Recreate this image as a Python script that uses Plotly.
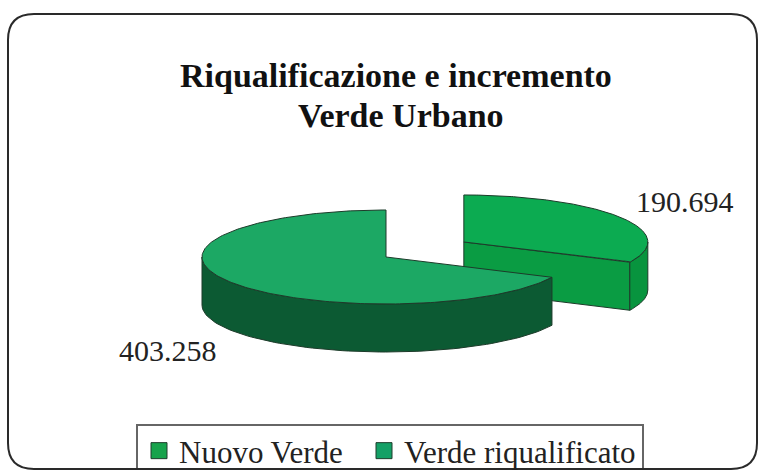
import numpy as np
import plotly.graph_objects as go

# ---------------- data ----------------
categories = ["Nuovo Verde", "Verde riqualificato"]
values = [190694, 403258]
pulls = [0.5, 0.0]
title_lines = ["Riqualificazione e incremento", "Verde Urbano"]

# ---------------- style ----------------
top_colors = ["#0cab51", "#1ca864"]
wall_colors = ["#08943e", "#0c5a33"]
face_colors = ["#0a9c43", "#0d6a3a"]
legend_colors = ["#17a34c", "#14a066"]
edge_color = "#1d3b2a"

W, H_FIG = 765, 470
CX, CY = 386, 257      # pie centre (pixel-like axis units)
RX, RY = 184, 47       # ellipse radii
DEPTH = 48             # thickness of the 3D pie


def rim(cx, cy, th, dz=0.0):
    return cx + RX * np.cos(th), cy - RY * np.sin(th) + dz


def arc(cx, cy, a, b, dz=0.0, n=80):
    th = np.linspace(a, b, n)
    x, y = rim(cx, cy, th, dz)
    return list(x), list(y)


total = float(sum(values))
fracs = [v / total for v in values]
cum = np.concatenate([[0.0], np.cumsum(fracs)])

slices = []
for i, cat in enumerate(categories):
    a0 = np.pi / 2 - 2 * np.pi * cum[i]        # start (clockwise from 12 o'clock)
    a1 = np.pi / 2 - 2 * np.pi * cum[i + 1]    # end
    lo, hi = a1, a0                            # CCW range
    mid = (lo + hi) / 2
    cx = CX + pulls[i] * RX * np.cos(mid)
    cy = CY - pulls[i] * RY * np.sin(mid) * 1.2
    slices.append(dict(i=i, lo=lo, hi=hi, mid=mid, cx=cx, cy=cy))

# paint back-to-front
order = sorted(slices, key=lambda s: -np.sin(s["mid"]))

fig = go.Figure()


def add_poly(xs, ys, color):
    fig.add_trace(go.Scatter(
        x=xs + [xs[0]], y=ys + [ys[0]], mode="lines", fill="toself",
        fillcolor=color, line=dict(color=edge_color, width=1),
        hoverinfo="skip", showlegend=False))


for s in order:
    i, lo, hi, cx, cy = s["i"], s["lo"], s["hi"], s["cx"], s["cy"]
    # radial cut faces
    if np.cos(lo) > 1e-6:
        x1, y1 = rim(cx, cy, lo)
        add_poly([cx, x1, x1, cx], [cy, y1, y1 + DEPTH, cy + DEPTH], face_colors[i])
    if np.cos(hi) < -1e-6:
        x1, y1 = rim(cx, cy, hi)
        add_poly([cx, x1, x1, cx], [cy, y1, y1 + DEPTH, cy + DEPTH], face_colors[i])
    # outer front wall
    for k in range(-2, 3):
        f0, f1 = -np.pi + 2 * np.pi * k, 2 * np.pi * k
        a, b = max(lo, f0), min(hi, f1)
        if b - a > 1e-6:
            tx, ty = arc(cx, cy, a, b)
            bx, by = arc(cx, cy, b, a, DEPTH)
            add_poly(tx + bx, ty + by, wall_colors[i])
    # top surface
    tx, ty = arc(cx, cy, lo, hi, n=200)
    add_poly([cx] + tx, [cy] + ty, top_colors[i])

# legend entries (one legend per entry to place them exactly)
legend_ids = ["legend", "legend2"]
legend_x = [139, 364]
for i, cat in enumerate(categories):
    fig.add_trace(go.Scatter(
        x=[None], y=[None], mode="markers", name=cat, legend=legend_ids[i],
        marker=dict(symbol="square", size=22, color=legend_colors[i],
                    line=dict(color="#1e3d2c", width=1))))

legend_style = dict(orientation="h", y=1 - 424 / H_FIG, xanchor="left", yanchor="top",
                    font=dict(family="Liberation Serif", size=31, color="#222"),
                    borderwidth=0, bgcolor="rgba(0,0,0,0)", itemsizing="trace")

# legend frame
fig.add_shape(type="rect", x0=137, x1=643, y0=425, y1=490, xref="x", yref="y",
              line=dict(color="#666", width=2), fillcolor="white", layer="below")

# value labels
label_pos = [(685, 201), (168, 350)]
for i, v in enumerate(values):
    txt = f"{v:,}".replace(",", ".")
    fig.add_annotation(x=label_pos[i][0], y=label_pos[i][1], text=txt,
                       showarrow=False, xanchor="center", yanchor="middle",
                       font=dict(family="Liberation Serif", size=30, color="#222"))

# title
title_pos = [(396, 75), (401, 115)]
for (tx, ty), line in zip(title_pos, title_lines):
    fig.add_annotation(x=tx, y=ty, text=f"<b>{line}</b>", showarrow=False,
                       xanchor="center", yanchor="middle",
                       font=dict(family="Liberation Serif", size=34, color="#111"))

# outer rounded frame
r = 26
x0, y0, x1, y1 = 8, 14, 757, 469
frame = (f"M {x0},{y0 + r} Q {x0},{y0} {x0 + r},{y0} L {x1 - r},{y0} "
         f"Q {x1},{y0} {x1},{y0 + r} L {x1},{y1 - r} Q {x1},{y1} {x1 - r},{y1} "
         f"L {x0 + r},{y1} Q {x0},{y1} {x0},{y1 - r} Z")
fig.add_shape(type="path", path=frame, xref="x", yref="y",
              line=dict(color="#2a2a2a", width=2), layer="below")

fig.update_layout(
    width=W, height=H_FIG,
    margin=dict(l=0, r=0, t=0, b=0, pad=0, autoexpand=False),
    paper_bgcolor="white", plot_bgcolor="rgba(0,0,0,0)",
    xaxis=dict(range=[0, W], visible=False, fixedrange=True),
    yaxis=dict(range=[H_FIG, 0], visible=False, fixedrange=True),
    showlegend=True,
    legend=dict(x=legend_x[0] / W, **legend_style),
    legend2=dict(x=legend_x[1] / W, **legend_style),
)

fig.write_html("out.html", config={"displayModeBar": False},
               post_script="document.body.style.margin='0';document.body.style.overflow='hidden';")
